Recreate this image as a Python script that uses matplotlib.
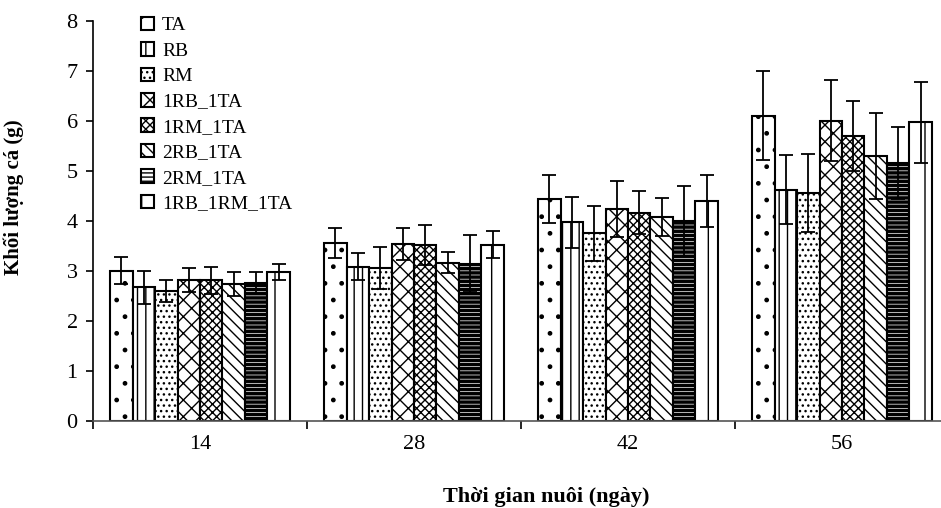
import matplotlib
matplotlib.use('Agg')
import matplotlib.pyplot as plt
import numpy as np

# Data
days = ['14', '28', '42', '56']
series = ['TA', 'RB', 'RM', '1RB_1TA', '1RM_1TA', '2RB_1TA', '2RM_1TA', '1RB_1RM_1TA']

ta = [3.00, 3.56, 4.44, 6.10]
rb = [2.67, 3.08, 3.97, 4.62]
rm = [2.59, 3.06, 3.75, 4.56]
rb1_ta1 = [2.81, 3.54, 4.24, 6.00]
rm1_ta1 = [2.81, 3.52, 4.16, 5.70]
rb2_ta1 = [2.73, 3.16, 4.07, 5.30]
rm2_ta1 = [2.75, 3.14, 4.00, 5.16]
rb1_rm1_ta1 = [2.97, 3.52, 4.40, 5.97]

ta_err = [0.27, 0.30, 0.48, 0.89]
rb_err = [0.33, 0.27, 0.51, 0.69]
rm_err = [0.22, 0.42, 0.55, 0.78]
rb1_ta1_err = [0.24, 0.32, 0.56, 0.81]
rm1_ta1_err = [0.27, 0.40, 0.43, 0.70]
rb2_ta1_err = [0.24, 0.21, 0.38, 0.86]
rm2_ta1_err = [0.22, 0.57, 0.70, 0.72]
rb1_rm1_ta1_err = [0.16, 0.27, 0.52, 0.81]

values = [ta, rb, rm, rb1_ta1, rm1_ta1, rb2_ta1, rm2_ta1, rb1_rm1_ta1]
errors = [ta_err, rb_err, rm_err, rb1_ta1_err, rm1_ta1_err, rb2_ta1_err, rm2_ta1_err, rb1_rm1_ta1_err]

# hatch patterns to imitate the Excel fills
hatches = ['.', '||', '...', 'xx', 'xxxx', '\\\\\\', '----', '|']

plt.rcParams['font.family'] = ['Liberation Serif', 'DejaVu Serif']
plt.rcParams['hatch.linewidth'] = 1.0
plt.rcParams['hatch.color'] = 'black'

fig = plt.figure(figsize=(9.41, 5.08), dpi=100)
ax = fig.add_axes([93 / 941, 87.3 / 508, 856 / 941, 399.7 / 508])

x = np.arange(len(days))
w = 0.105
for i, (name, vals, errs, h) in enumerate(zip(series, values, errors, hatches)):
    bars = ax.bar(x + (i - 3.5) * w, vals, w, yerr=errs, label=name,
                  color='white', edgecolor='black', linewidth=1.5, hatch=h,
                  error_kw=dict(ecolor='black', elinewidth=1.3, capsize=5, capthick=1.3))
    if name == '2RM_1TA':
        for b in bars:
            try:
                b.set_hatch_linewidth(2.5)
            except AttributeError:
                pass

ax.set_xlim(-0.5, 3.5)
ax.set_ylim(0, 8)
ax.set_yticks(range(0, 9))
ax.set_xticks(x)
ax.set_xticklabels(days)
ax.set_xticks([-0.5, 0.5, 1.5, 2.5], minor=True)
ax.tick_params(axis='x', which='major', length=0, labelsize=16, pad=10)
ax.tick_params(axis='x', which='minor', length=6, width=1.2, direction='out')
ax.tick_params(axis='y', length=5, width=1.2, labelsize=16, pad=6)

ax.spines['top'].set_visible(False)
ax.spines['right'].set_visible(False)
ax.spines['left'].set_linewidth(1.2)
ax.spines['bottom'].set_linewidth(1.2)
ax.spines['bottom'].set_color('#555555')

ax.set_ylabel('Khối lượng cá (g)', fontsize=15, fontweight='bold')
ax.yaxis.set_label_coords(-0.081, 0.56)
fig.text(546 / 941, 6 / 508, 'Thời gian nuôi (ngày)', fontsize=16,
         fontweight='bold', ha='center', va='baseline')

ax.legend(loc='upper left', bbox_to_anchor=(40 / 856, 1.03), frameon=False,
          fontsize=14, handlelength=0.7, handleheight=0.7, handletextpad=0.4,
          labelspacing=0.4, borderaxespad=0)

fig.savefig('out.png', dpi=100, facecolor='white')
